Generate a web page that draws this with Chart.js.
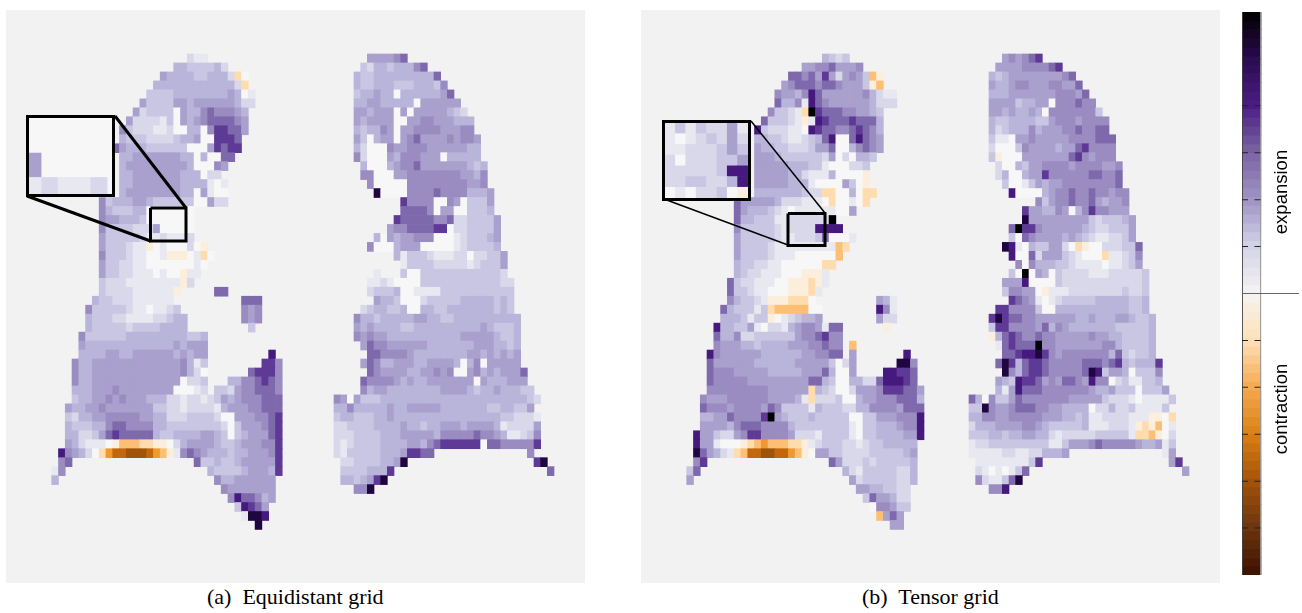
<!DOCTYPE html>
<html>
<head>
<meta charset="utf-8">
<title>Equidistant grid / Tensor grid</title>
<script src="https://cdn.jsdelivr.net/npm/chart.js@4"></script>
<style>
  body { margin: 0; background: #fff; width: 1302px; height: 613px; overflow: hidden; position: relative; }
  canvas { position: absolute; }
  .panel { background: #f2f2f2; }
  .inset { background: #f8f7f7; outline: 3px solid #000; }
  .caption { position: absolute; top: 584px; font: 22px "Liberation Serif", serif; white-space: pre; color: #000; }
  .side { position: absolute; font: 18.5px "Liberation Sans", sans-serif; transform: translate(-50%, -50%) rotate(-90deg); color: #000; }
</style>
</head>
<body>
<canvas id="panelA" class="panel" width="579" height="573" style="left:6px;top:10px"></canvas>
<canvas id="panelB" class="panel" width="579" height="573" style="left:641px;top:10px"></canvas>
<canvas id="insetA" class="inset" width="83" height="76" style="left:29px;top:118px"></canvas>
<canvas id="insetB" class="inset" width="83" height="75" style="left:665px;top:123px"></canvas>
<canvas id="colorbar" width="57" height="563" style="left:1242px;top:12px"></canvas>
<div class="caption" style="left:207px">(a)  Equidistant grid</div>
<div class="caption" style="left:862px">(b)  Tensor grid</div>
<div class="side" style="left:1281px;top:192px">expansion</div>
<div class="side" style="left:1281px;top:409px">contraction</div>

<script>
// colour codes used in the row strings, dark expansion -> white -> dark contraction
const levelCodes = ['k', 'x', '9', '8', '7', '6', '5', '4', '3', '2', '1', '0', 'a', 'b', 'c', 'd', 'e', 'f'];
const levelColors = ['#000000', '#1f0640', '#46197f', '#5e3a96', '#7f69ad', '#9a8cc1', '#a9a0cd', '#b9b4d9', '#c9c6e3', '#d8d8ea', '#e8e8f1', '#f8f7f7', '#fbeedd', '#fedcae', '#fdbf74', '#ef9a2e', '#c2670c', '#a0540a'];

// each row of the lungs, top to bottom, as "startColumn:codes"
const equiLeft = [
  "20:211", "18:44333342", "16:54444334442 27:b0", "15:4444444444442b", "14:3333444444445401",
  "13:53333554555555422", "12:52333305446766654", "11:522221305456777765", "10:6322211200440688775", "10:433322223445008887",
  "9:7544433333300058788", "10:44555555544040077", "10:4555555555400065", "10:445555555444022", "10:4455555554444101",
  "10:4555555554405100", "7:6344455433333300522", "7:64333440000000", "7:65544430000000", "7:63333222500000",
  "7:53333321121112", "7:5333211a0100020a", "7:6333211001aaa01b0", "7:5332211000000010", "7:533221110100a11",
  "7:322211111111a2", "7:32222111111a 24:77", "6:433222111111 28:777", "5:63333321101123 28:656", "5:433322111122344 28:656",
  "5:433333233334444 29:3", "4:6333333444444444334", "4:5444444444444454555", "4:4444554455555545455 32:9", "3:64455555555555556413 31:886",
  "3:64455555555555556420 29:78886", "3:64455555555555550223 26:44667876", "3:44455565555555500012 24:3325667776", "3:344556565554442212212 24:3545666777", "2:54455655555553322122221455566777",
  "2:32445566666554422233332005556678", "2:43334467766664433333333203555678", "2:44223578777774334444554303455578", "2:5421110acccbbaa02455554334555668", "1:965420bdeefffedca1676544434455568",
  "1:67 21:7334334555558", "0:16 23:43333455548", "0:4 24:644555555", "25:65555555", "26:6977645",
  "27:39875", "28:1xx9", "30:x"
];
const equiRight = [
  "47:555567", "46:3244344467", "45:4334444444447", "45:43344433344436", "45:344544044444457",
  "45:4455444440555555", "45:55455505055555432", "45:545555005566555444", "45:434465055666655566", "45:5304550567555565665",
  "45:4200065566655555544", "45:6200054666555044444", "46:4000456675555555434", "46:6600055666666665546", "47:600000666666666556",
  "48:x00006666766664445", "52:86666006503335", "52:77776055003334", "51:8777776672233335", "50:56677778802233335",
  "48:4054556660001233345", "47:60004555000001233334", "51:41333211122022335", "52:1333322222123335", "48:1 52:3003333333333332",
  "47:1121000033333333333322", "47:2333400111133333333333", "48:544300023333344444343", "46:23443340044334444444343", "45:6443444445544334444444444",
  "45:5454444334444444444543334", "45:6565544444444444555554334", "46:576655555544444445554434", "47:77666654444444455454545", "46:576445554455554046055555",
  "47:765555445565600564545557", "46:7666654544555555505444555", "46:64554444444455554344544433", "42:6505333444444444444444444444432", "42:446444445445555544444443344335",
  "42:3443334454444444444444444332221", "42:2233334444544344555455554122225", "42:2223333444555554666667665411236", "42:2123333444455467888888077666668", "42:213333344458877 71:6",
  "43:223333445x 72:8x", "43:33334448 74:7", "43:443458x", "45:66x"
];
const tensorLeft = [
  "20:4323", "17:556675556", "15:776758525653 27:ca", "14:5677767765553ac", "13:655469755555564211",
  "13:744619765555554222", "12:63321bk8777665543", "11:733321a19877787774", "10:9322211098776678764", "10:4433211234790079765",
  "10:5443322235570046765", "10:555433333325020443", "10:55555444331000223", "10:5555544211140000a", "10:5555544410000530a",
  "10:4444444322bb0040bb", "7:75555542221110b0010b", "7:754443210111111005", "7:74433311222222k", "7:6333332122229999",
  "7:533333211222370001", "7:533332111111111cb", "7:533332111000000c", "7:4332211000000bb", "7:4322111000aaa1",
  "6:732211100aaaba1", "6:733211000aaab1", "6:643321aaabbb0 28:541", "5:7433313bccccc00 28:961", "5:4443133a0123445 28:522",
  "4:9443351022145665177 29:a", "4:7446223333335667866", "4:6555443444455566766 24:c", "3:96555555444444556677 24:5 32:9", "3:7555555444444555553025 31:xx6",
  "3:7666555554444455574005 29:99887", "3:7666665555555557743004422799987", "3:666666666555555b4320025556888775", "2:6555666666555541b2223004556667774", "2:766656666576333314333224466665777",
  "2:4455766668k5433343333300335556669", "2:555546777666643333333310334445669", "1:9553225688666652221333310334444559", "1:9551000abcdcccbba1233322123344444", "1:x75421bceeffeedca0553322223333345",
  "1:68 21:7522232333334", "0:37 23:42133333224", "0:5 24:5233333224", "25:55443322", "26:3755422",
  "27:066533", "28:c575", "30:55"
];
const tensorRight = [
  "47:565678", "46:5555666678", "45:4345555555567", "45:54456655566557", "45:444555555566657",
  "45:5555344550666766", "45:55454454066666663", "45:433444433566656666", "45:423444645556676677", "45:3110556555556666777",
  "45:2000365555455786666", "45:3a00055555557865666", "46:2004355666656666556", "46:2400455866666677667", "47:300135455666666667",
  "48:900004566766766566", "52:63566766754556", "50:8554465046866555", "50:x5555555553233345", "48:7k88655555543223335",
  "48:3076555545432112235", "47:x9104335520ba00222337", "48:90072555321000b11236", "49:6064443321111011235", "48:30k054032222111222223",
  "47:5559000032222222222223", "47:366550a111222222223223", "48:876510123333344444334", "46:88666630044444444444334", "45:8x87766555555445444554334",
  "45:3886666574654444444333334", "45:a478766766555556554433334", "46:178777k66555555566433334", "47:77899x86566666664732334", "46:7x84788766666777678434448",
  "47:x647887666667x9355403336", "46:5439887565776596602311334", "46:41597776666666544533303335", "42:7406335766666665555532221011113", "42:33x655677766554444022422311113",
  "42:446655666665554434112222111aa0b", "42:2444555566543333341112221abac01", "42:3334434455442122222333331bbca02", "42:1223333333331135556766666544513", "42:111112211224445 71:15",
  "43:1111111138 72:58", "43:21010137 74:5", "43:621137x", "45:669"
];
// magnified views of the framed region in each panel
const equiInset = ["0:00000", "0:00000", "0:50000", "0:12112"];
const tensorInset = ["0:13132251", "0:10123252", "0:11222353", "0:20222335", "0:22222399", "0:22332249", "0:0102230a"];

// frame and connector lines, in panel pixels
const frameA = [{x: 144.5, y: 198}, {x: 180, y: 198}, {x: 180, y: 231}, {x: 144.5, y: 231}, {x: 144.5, y: 198}];
const connectorsA = [[{x: 109, y: 106}, {x: 180, y: 198}], [{x: 21, y: 186}, {x: 144.5, y: 231}]];
const frameB = [{x: 147, y: 203.5}, {x: 184, y: 203.5}, {x: 184, y: 235.5}, {x: 147, y: 235.5}, {x: 147, y: 203.5}];
const connectorsB = [[{x: 110, y: 111}, {x: 184, y: 203}], [{x: 23, y: 189}, {x: 147, y: 235}]];

// colour bar
const barStops = [-1, -0.833, -0.667, -0.5, -0.333, -0.167, 0, 0.167, 0.333, 0.5, 0.667, 0.833, 1];
const barColors = ['#3d1000', '#6b3410', '#a35208', '#d97f14', '#f5a94f', '#fee0b6', '#f5f3f1', '#d4d4e8', '#a094c4', '#7a65a3', '#4b1d85', '#2a0a4f', '#000000'];
const barTicks = [-0.833, -0.667, -0.5, -0.333, -0.167, 0.167, 0.333, 0.5, 0.667, 0.833];
const barBands = 64;

function cellsFrom(rows) {
  const cells = [];
  rows.forEach((row, r) => {
    row.split(' ').filter(Boolean).forEach(seg => {
      const [start, codes] = seg.split(':');
      [...codes].forEach((code, i) => {
        cells.push({x: +start + i + 0.5, y: [r, r + 1], code: code});
      });
    });
  });
  return cells;
}

function lungDataset(rows, axis) {
  const cells = cellsFrom(rows);
  return {
    type: 'bar',
    data: cells,
    backgroundColor: cells.map(c => levelColors[levelCodes.indexOf(c.code)]),
    xAxisID: axis,
    yAxisID: 'y',
    barPercentage: 1,
    categoryPercentage: 1,
    grouped: false
  };
}

function lineDataset(points, width) {
  return {
    type: 'line',
    data: points,
    xAxisID: 'xP',
    yAxisID: 'yP',
    borderColor: '#000',
    borderWidth: width,
    pointRadius: 0,
    tension: 0,
    order: -1
  };
}

function hiddenAxis(min, max, reverse) {
  return {
    type: 'linear', display: false, min: min, max: max, reverse: !!reverse, offset: false,
    ticks: {stepSize: 1000, includeBounds: false}
  };
}

const baseOptions = {
  responsive: false,
  animation: false,
  layout: {padding: 0},
  plugins: {legend: {display: false}, tooltip: {enabled: false}}
};

function drawPanel(id, leftRows, rightRows, frame, connectors, connectorWidth) {
  new Chart(document.getElementById(id), {
    type: 'bar',
    data: {
      datasets: [
        lungDataset(leftRows, 'xL'),
        lungDataset(rightRows, 'xR'),
        lineDataset(frame, 3),
        lineDataset(connectors[0], connectorWidth),
        lineDataset(connectors[1], connectorWidth)
      ]
    },
    options: {
      ...baseOptions,
      scales: {
        xL: hiddenAxis(-6.74, 78.66),
        xR: hiddenAxis(-7.2, 79.65),
        y: hiddenAxis(-4.905, 58.97, true),
        xP: hiddenAxis(0, 579),
        yP: hiddenAxis(0, 573, true)
      }
    }
  });
}

function drawInset(id, rows, xMin, xMax, yMin, yMax) {
  new Chart(document.getElementById(id), {
    type: 'bar',
    data: {datasets: [lungDataset(rows, 'xL')]},
    options: {
      ...baseOptions,
      scales: {xL: hiddenAxis(xMin, xMax), y: hiddenAxis(yMin, yMax, true)}
    }
  });
}

function hexToRgb(h) {
  return [parseInt(h.slice(1, 3), 16), parseInt(h.slice(3, 5), 16), parseInt(h.slice(5, 7), 16)];
}

function barColor(t) {
  let i = 0;
  while (i < barStops.length - 2 && t > barStops[i + 1]) i++;
  const f = (t - barStops[i]) / (barStops[i + 1] - barStops[i]);
  const a = hexToRgb(barColors[i]), b = hexToRgb(barColors[i + 1]);
  return 'rgb(' + a.map((v, k) => Math.round(v + (b[k] - v) * f)).join(',') + ')';
}

function drawColorbar() {
  const bands = [], colors = [];
  for (let i = 0; i < barBands; i++) {
    const low = -1 + 2 * i / barBands, high = -1 + 2 * (i + 1) / barBands;
    bands.push({x: 0.5, y: [low, high]});
    colors.push(barColor((low + high) / 2));
  }
  const datasets = [{
    type: 'bar', data: bands, backgroundColor: colors, barThickness: 19, grouped: false
  }];
  barTicks.forEach(t => {
    datasets.push({
      type: 'line', data: [{x: 0, y: t}, {x: 1, y: t}], borderColor: '#222', borderWidth: 1,
      borderDash: [6, 6.5, 6], pointRadius: 0, order: -1
    });
  });
  // zero line runs out past the bar
  datasets.push({type: 'line', data: [{x: 0, y: 0}, {x: 3, y: 0}], borderColor: '#666', borderWidth: 1, pointRadius: 0, order: -1});
  // edges of the bar
  datasets.push({type: 'line', data: [{x: 0.02, y: -1}, {x: 0.02, y: 1}], borderColor: '#444', borderWidth: 1, pointRadius: 0, order: -1});
  datasets.push({type: 'line', data: [{x: 0.98, y: -1}, {x: 0.98, y: 1}], borderColor: '#999', borderWidth: 1, pointRadius: 0, order: -1});
  new Chart(document.getElementById('colorbar'), {
    type: 'bar',
    data: {datasets: datasets},
    options: {
      ...baseOptions,
      scales: {
        x: {type: 'linear', display: false, min: 0, max: 3, offset: false, ticks: {stepSize: 1000, includeBounds: false}},
        y: {type: 'linear', display: false, min: -1, max: 1, ticks: {stepSize: 1000, includeBounds: false}}
      }
    }
  });
}

drawPanel('panelA', equiLeft, equiRight, frameA, connectorsA, 3);
drawPanel('panelB', tensorLeft, tensorRight, frameB, connectorsB, 1.5);
drawInset('insetA', equiInset, 0.22, 5.3, 0.56, 3.68);
drawInset('insetB', tensorInset, 0, 8, 0, 7);
drawColorbar();
</script>
</body>
</html>
